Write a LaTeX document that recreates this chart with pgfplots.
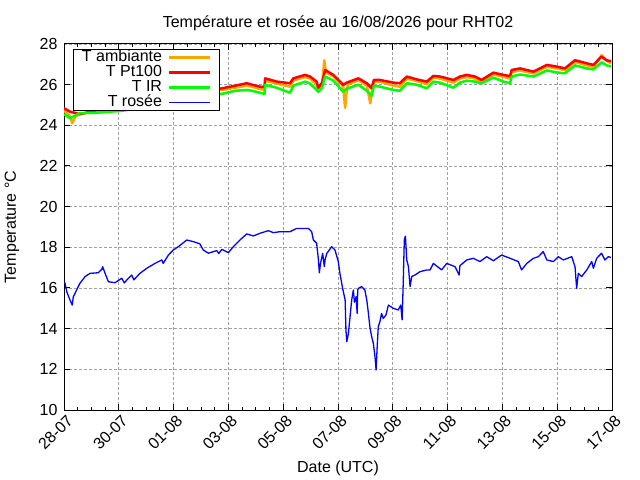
\documentclass[border=0pt]{standalone}
\usepackage{pgfplots}
\pgfplotsset{compat=1.18}
\usepackage{fontspec}
\setmainfont{Liberation Sans}
\definecolor{gporange}{RGB}{255,165,0}
\definecolor{gpred}{RGB}{255,0,0}
\definecolor{gpgreen}{RGB}{0,255,0}
\definecolor{gpblue}{RGB}{0,0,255}
\definecolor{gpgrid}{RGB}{160,160,160}

\pgfplotstableread{
x y
0.00 24.72
0.22 24.45
0.30 24.10
0.42 24.45
0.58 24.55
1.20 24.70
2.15 24.82
3.14 25.10
4.23 25.40
5.15 25.62
5.77 25.74
6.24 25.85
6.67 25.95
6.86 25.90
7.15 25.78
7.32 25.75
7.34 26.20
7.76 26.05
8.25 25.90
8.37 26.20
8.80 26.38
8.98 26.30
9.22 26.00
9.28 25.75
9.42 26.00
9.50 27.20
9.56 26.60
9.83 26.40
10.19 25.90
10.26 24.85
10.30 25.50
10.36 26.00
10.74 26.22
11.05 25.95
11.18 25.08
11.23 25.60
11.31 26.15
11.53 26.15
12.02 25.95
12.26 25.90
12.51 26.30
12.87 26.18
13.24 26.02
13.48 26.35
13.72 26.30
14.21 26.10
14.45 26.30
14.70 26.38
15.00 26.30
15.24 26.15
15.67 26.50
16.03 26.38
16.28 26.30
16.34 26.62
16.64 26.70
17.13 26.55
17.62 26.88
17.98 26.80
18.28 26.72
18.65 27.12
19.08 26.95
19.32 26.88
19.62 27.45
19.80 27.18
19.96 27.05
}\ambiante

\pgfplotstableread{
x y
0.00 24.84
0.22 24.67
0.58 24.55
1.20 24.75
2.15 24.90
3.14 25.20
4.23 25.50
5.15 25.70
5.77 25.82
6.24 25.95
6.67 26.07
6.86 26.00
7.15 25.90
7.32 25.88
7.34 26.31
7.76 26.15
8.25 26.07
8.37 26.31
8.80 26.48
8.98 26.40
9.22 26.15
9.28 25.85
9.42 26.10
9.53 26.72
9.83 26.48
10.19 25.99
10.32 26.10
10.74 26.31
11.05 26.07
11.23 25.82
11.31 26.23
11.53 26.23
12.02 26.10
12.26 26.07
12.51 26.40
12.87 26.26
13.24 26.15
13.48 26.43
13.72 26.40
14.21 26.23
14.45 26.40
14.70 26.48
15.00 26.40
15.24 26.23
15.67 26.59
16.03 26.48
16.28 26.42
16.34 26.72
16.64 26.80
17.13 26.64
17.62 26.97
17.98 26.89
18.28 26.80
18.65 27.20
19.08 27.05
19.32 26.97
19.62 27.38
19.80 27.20
19.96 27.15
}\ptcent

\pgfplotstableread{
x y
0.00 24.55
0.22 24.35
0.58 24.60
1.20 24.62
2.15 24.72
3.14 25.00
4.23 25.30
5.15 25.45
5.77 25.55
6.24 25.70
6.67 25.74
6.86 25.70
7.15 25.60
7.32 25.55
7.34 25.99
7.76 25.85
8.25 25.60
8.37 25.95
8.80 26.15
8.98 26.05
9.22 25.74
9.28 25.65
9.42 25.85
9.53 26.40
9.83 26.20
10.19 25.65
10.32 25.80
10.74 26.00
11.05 25.70
11.23 25.45
11.31 25.95
11.53 25.90
12.02 25.74
12.26 25.70
12.51 26.07
12.87 26.00
13.24 25.82
13.48 26.15
13.72 26.10
14.21 25.85
14.45 26.10
14.70 26.20
15.00 26.15
15.24 26.07
15.67 26.35
16.03 26.15
16.28 26.07
16.34 26.40
16.64 26.50
17.13 26.40
17.62 26.70
17.98 26.60
18.28 26.56
18.65 26.95
19.08 26.80
19.32 26.75
19.62 27.10
19.80 26.95
19.96 26.90
}\tir

\pgfplotstableread{
x y
0.00 16.30
0.04 16.23
0.10 15.82
0.19 15.50
0.30 15.16
0.34 15.57
0.46 15.90
0.58 16.23
0.77 16.56
0.95 16.72
1.25 16.75
1.38 16.92
1.41 17.05
1.50 16.72
1.62 16.31
1.86 16.26
2.11 16.48
2.20 16.25
2.29 16.39
2.47 16.64
2.55 16.40
2.77 16.72
3.02 16.97
3.32 17.21
3.57 17.38
3.62 17.21
3.81 17.62
3.99 17.87
4.17 18.03
4.48 18.36
4.72 18.28
4.96 18.17
5.08 17.87
5.27 17.71
5.57 17.84
5.65 17.70
5.76 17.90
6.00 17.74
6.18 18.03
6.42 18.36
6.67 18.66
6.91 18.56
7.15 18.69
7.46 18.82
7.64 18.72
7.88 18.77
8.25 18.77
8.49 18.93
8.92 18.93
9.04 18.77
9.10 18.36
9.22 18.20
9.28 17.46
9.32 16.75
9.36 17.20
9.44 17.70
9.50 17.05
9.53 17.40
9.59 17.70
9.77 18.03
9.89 17.87
10.01 17.30
10.07 16.72
10.17 15.98
10.26 15.41
10.29 13.93
10.32 13.36
10.38 13.77
10.44 14.59
10.50 15.41
10.56 15.90
10.60 15.30
10.66 15.57
10.70 14.75
10.72 15.90
10.74 15.98
10.86 16.07
10.98 15.90
11.05 15.41
11.11 14.75
11.17 14.02
11.23 13.60
11.29 13.28
11.35 12.62
11.39 11.97
11.43 13.11
11.47 14.10
11.53 14.34
11.59 14.75
11.65 14.50
11.75 14.67
11.84 15.16
12.02 15.00
12.20 14.92
12.29 15.16
12.34 14.43
12.38 16.23
12.42 18.36
12.46 18.55
12.51 17.38
12.57 17.05
12.63 16.07
12.69 16.56
12.81 16.64
12.99 16.80
13.24 16.89
13.36 16.89
13.48 17.21
13.78 16.89
13.97 17.21
14.27 17.05
14.42 16.64
14.45 17.10
14.70 17.38
14.94 17.46
15.18 17.30
15.43 17.54
15.67 17.34
15.97 17.62
16.28 17.46
16.58 17.30
16.70 16.89
16.89 17.21
17.13 17.46
17.31 17.54
17.49 17.79
17.62 17.38
17.86 17.30
18.04 17.54
18.22 17.38
18.53 17.54
18.65 17.05
18.71 15.98
18.77 16.72
18.89 16.56
19.08 16.89
19.26 17.30
19.32 16.97
19.44 17.46
19.62 17.71
19.74 17.38
19.87 17.54
19.96 17.50
}\rosee

\begin{document}
\begin{tikzpicture}
\useasboundingbox (0,0) rectangle (640bp,480bp);
\begin{axis}[
  at={(64bp,70bp)}, anchor=south west,
  scale only axis, width=548bp, height=366bp,
  xmin=0, xmax=20, ymin=10, ymax=28,
  xtick={0,2,...,20},
  xticklabels={28-07,30-07,01-08,03-08,05-08,07-08,09-08,11-08,13-08,15-08,17-08},
  minor x tick num=3,
  ytick={10,12,...,28},
  tick align=inside,
  major tick length=6bp, minor tick length=3bp,
  tick style={black, line width=1bp},
  axis line style={line width=1bp},
  grid=major,
  major grid style={gpgrid, dash pattern=on 2.5bp off 2.5bp, line width=0.8bp},
  /pgf/number format/assume math mode=true,
  tick label style={font=\fontsize{16bp}{18bp}\selectfont},
  yticklabel style={xshift=-3bp},
  xticklabel style={rotate=45, anchor=east, xshift=2bp, yshift=-10bp},
  title={Température et rosée au 16/08/2026 pour RHT02},
  title style={at={(axis description cs:0.5,1.041)}, anchor=center, font=\fontsize{16bp}{18bp}\selectfont},
  xlabel={Date (UTC)},
  xlabel style={at={(axis description cs:0.5,-0.159)}, anchor=center, font=\fontsize{16bp}{18bp}\selectfont},
  ylabel={Temperature °C},
  ylabel style={at={(axis description cs:-0.095,0.5)}, anchor=center, font=\fontsize{16bp}{18bp}\selectfont},
  legend cell align=right,
  legend plot pos=right,
  legend image code/.code={\draw[#1] (0bp,0bp) -- (41bp,0bp);},
  legend style={at={(axis description cs:0.0164,0.986)}, anchor=north west,
    draw=black, line width=1bp, fill=white, inner xsep=8bp, inner ysep=0.5bp,
    column sep=5bp,
    font=\fontsize{16bp}{17bp}\selectfont,
    nodes={text height=11bp, text depth=3bp, inner sep=0.5bp}},
]
\addplot[gporange, line width=2.5bp, line join=round] table[x=x,y=y] {\ambiante};
\addlegendentry{T ambiante}
\addplot[gpred, line width=2.5bp, line join=round] table[x=x,y=y] {\ptcent};
\addlegendentry{T Pt100}
\addplot[gpgreen, line width=2.5bp, line join=round] table[x=x,y=y] {\tir};
\addlegendentry{T IR}
\addplot[gpblue, line width=1.3bp, line join=round] table[x=x,y=y] {\rosee};
\addlegendentry{T rosée}
\end{axis}
\end{tikzpicture}
\end{document}
